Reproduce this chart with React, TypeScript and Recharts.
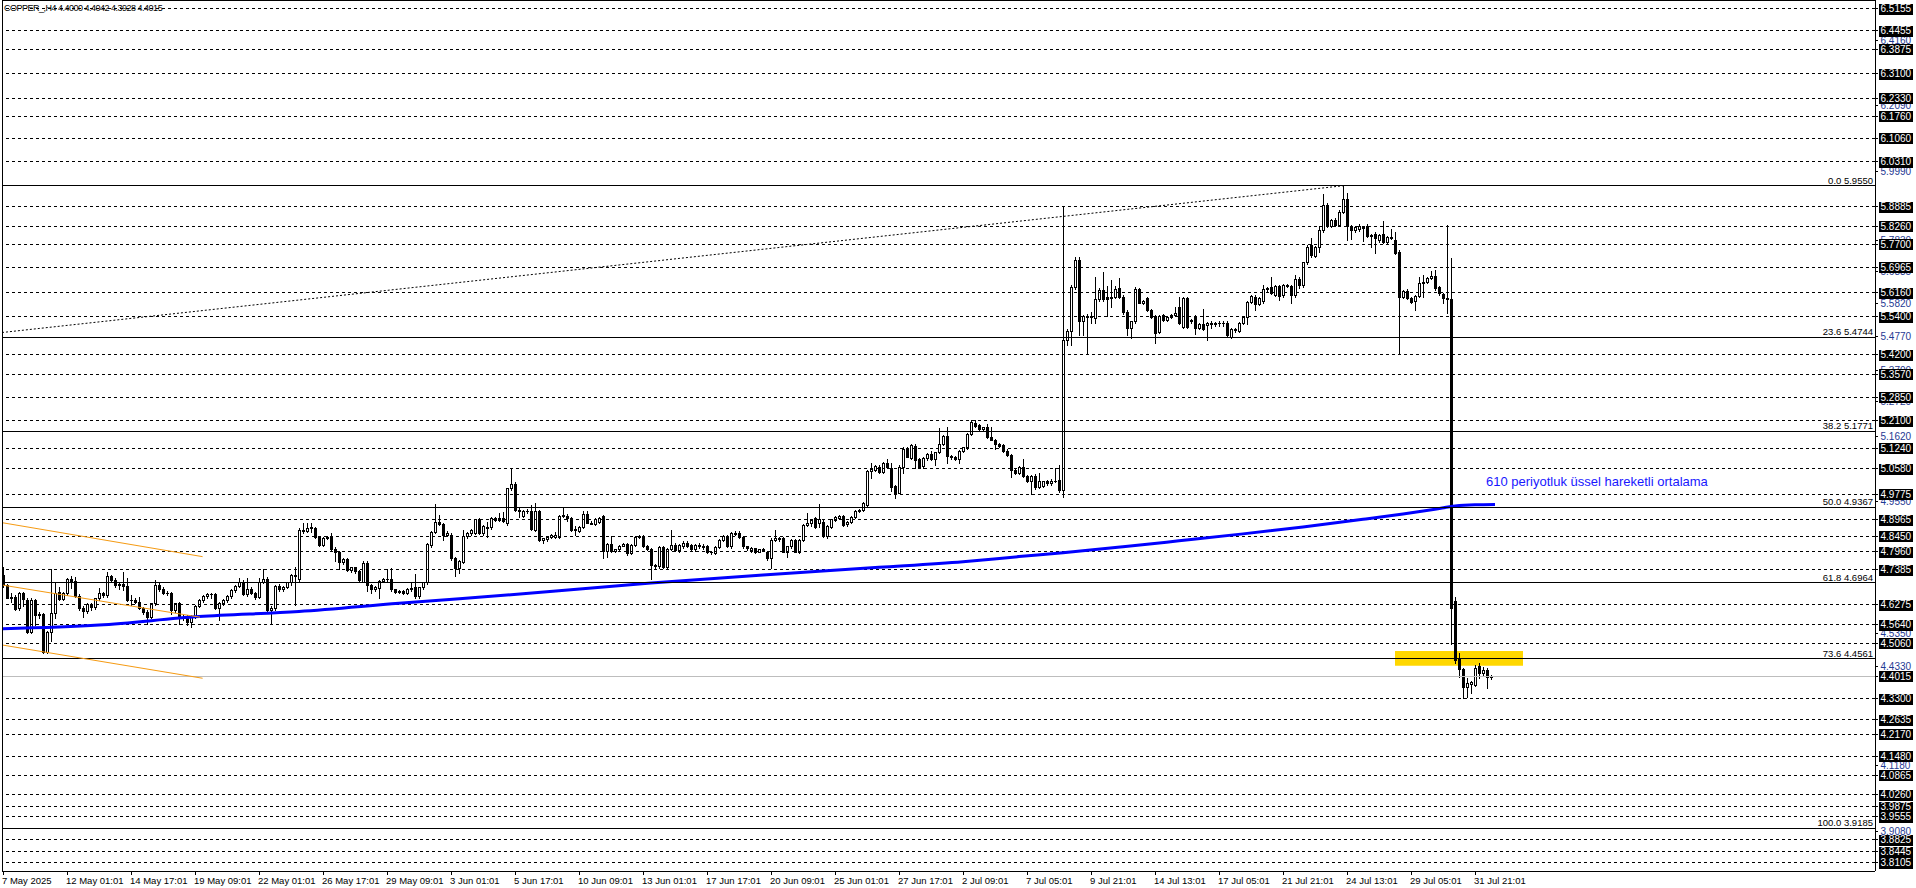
import React from 'react';
import {
  ComposedChart,
  Bar,
  Line,
  XAxis,
  YAxis,
  ReferenceLine,
  ReferenceArea,
  ReferenceDot,
} from 'recharts';

// ---------- data (prices) ----------
// each candle: [open, high, low, close], one per H4 bar, starting 7 May 2025 09:01
const candlesPart1 = [
  [4.722,4.746,4.685,4.690],[4.690,4.693,4.648,4.650],[4.650,4.664,4.637,4.653],[4.653,4.658,4.611,4.613],
  [4.616,4.669,4.611,4.664],[4.664,4.669,4.622,4.645],[4.643,4.648,4.539,4.542],[4.542,4.648,4.539,4.643],
  [4.641,4.645,4.564,4.595],[4.595,4.603,4.585,4.597],[4.597,4.600,4.476,4.479],[4.479,4.543,4.474,4.540],
  [4.540,4.740,4.511,4.600],[4.600,4.695,4.585,4.666],[4.669,4.685,4.643,4.645],[4.645,4.669,4.641,4.666],
  [4.666,4.711,4.658,4.708],[4.708,4.717,4.680,4.703],[4.703,4.714,4.653,4.655],[4.655,4.662,4.611,4.616],
  [4.616,4.624,4.590,4.609],[4.609,4.632,4.600,4.629],[4.629,4.634,4.611,4.619],[4.619,4.650,4.613,4.648],
  [4.648,4.680,4.643,4.664],[4.664,4.669,4.653,4.658],[4.658,4.730,4.653,4.717],[4.717,4.722,4.703,4.706],
  [4.706,4.711,4.685,4.690],[4.690,4.701,4.676,4.693],[4.693,4.732,4.674,4.687],[4.687,4.711,4.638,4.641],
  [4.641,4.658,4.627,4.643],[4.643,4.648,4.632,4.637],[4.637,4.653,4.614,4.616],[4.616,4.621,4.598,4.603],
  [4.603,4.611,4.567,4.590],[4.590,4.634,4.585,4.632],[4.632,4.706,4.627,4.690],[4.690,4.698,4.672,4.676],
  [4.676,4.685,4.662,4.666],[4.666,4.672,4.658,4.664],[4.664,4.669,4.598,4.611],[4.611,4.634,4.605,4.632],
  [4.632,4.637,4.567,4.585],[4.585,4.598,4.579,4.590],[4.590,4.595,4.564,4.573],[4.573,4.595,4.558,4.590],
  [4.590,4.627,4.585,4.624],[4.624,4.645,4.619,4.641],[4.641,4.658,4.637,4.655],[4.655,4.664,4.650,4.660],
  [4.660,4.665,4.650,4.662],[4.662,4.664,4.614,4.616],[4.616,4.637,4.579,4.634],[4.634,4.645,4.627,4.641],
  [4.641,4.658,4.637,4.655],[4.655,4.676,4.650,4.674],[4.674,4.690,4.669,4.687],[4.687,4.711,4.683,4.701],
  [4.701,4.706,4.658,4.662],[4.662,4.711,4.655,4.676],[4.676,4.685,4.660,4.664],[4.664,4.669,4.645,4.653],
  [4.653,4.711,4.650,4.701],[4.701,4.741,4.695,4.708],[4.708,4.714,4.609,4.611],[4.611,4.622,4.571,4.616],
  [4.616,4.690,4.610,4.687],[4.687,4.693,4.672,4.676],[4.676,4.687,4.670,4.685],[4.685,4.700,4.680,4.698],
  [4.698,4.725,4.690,4.722],[4.722,4.746,4.627,4.719],[4.708,4.870,4.700,4.864],[4.864,4.886,4.854,4.861],
  [4.861,4.886,4.859,4.872],[4.872,4.886,4.859,4.873],[4.870,4.875,4.838,4.841],[4.841,4.845,4.815,4.817],
  [4.817,4.843,4.812,4.840],[4.840,4.845,4.835,4.842],[4.845,4.854,4.800,4.803],[4.803,4.810,4.767,4.796],
  [4.796,4.798,4.740,4.764],[4.764,4.775,4.758,4.771],[4.771,4.776,4.733,4.736],[4.736,4.748,4.730,4.746],
  [4.746,4.748,4.727,4.733],[4.733,4.737,4.704,4.706],[4.701,4.767,4.698,4.761],[4.761,4.765,4.672,4.690],
  [4.690,4.693,4.666,4.676],[4.676,4.688,4.672,4.685],[4.680,4.705,4.648,4.703],[4.703,4.711,4.700,4.708],
  [4.708,4.741,4.704,4.710],[4.710,4.743,4.672,4.676],[4.676,4.678,4.665,4.669],[4.669,4.673,4.664,4.670],
  [4.670,4.673,4.660,4.664],[4.664,4.680,4.660,4.676],[4.676,4.698,4.672,4.680],[4.683,4.725,4.650,4.655],
  [4.655,4.685,4.650,4.683],[4.683,4.700,4.678,4.698],
];

const candlesPart2 = [
  [4.698,4.822,4.693,4.820],[4.817,4.862,4.810,4.859],[4.859,4.946,4.855,4.891],[4.891,4.912,4.880,4.884],
  [4.884,4.888,4.833,4.849],[4.849,4.862,4.845,4.856],[4.850,4.856,4.769,4.775],[4.775,4.778,4.717,4.743],
  [4.743,4.768,4.727,4.766],[4.764,4.865,4.760,4.845],[4.845,4.858,4.840,4.856],[4.856,4.866,4.850,4.865],
  [4.856,4.900,4.852,4.898],[4.898,4.901,4.852,4.856],[4.856,4.880,4.850,4.877],[4.870,4.891,4.841,4.875],
  [4.873,4.904,4.868,4.901],[4.901,4.905,4.893,4.896],[4.896,4.919,4.892,4.901],[4.901,4.922,4.890,4.894],
  [4.888,4.998,4.880,4.996],[4.996,5.060,4.990,5.010],[5.010,5.015,4.925,4.928],[4.928,4.935,4.905,4.925],
  [4.909,4.928,4.905,4.923],[4.923,4.930,4.918,4.925],[4.923,4.944,4.865,4.868],[4.865,4.949,4.860,4.923],
  [4.923,4.928,4.828,4.833],[4.833,4.840,4.822,4.838],[4.835,4.846,4.830,4.843],[4.843,4.852,4.838,4.847],
  [4.843,4.859,4.840,4.849],[4.843,4.911,4.840,4.909],[4.909,4.936,4.905,4.912],[4.910,4.915,4.894,4.901],
  [4.901,4.905,4.862,4.865],[4.865,4.877,4.849,4.867],[4.862,4.876,4.858,4.873],[4.873,4.923,4.870,4.915],
  [4.915,4.923,4.885,4.888],[4.888,4.893,4.882,4.884],[4.884,4.901,4.880,4.898],[4.891,4.906,4.888,4.901],
  [4.909,4.913,4.775,4.799],[4.799,4.822,4.780,4.820],[4.820,4.845,4.796,4.799],[4.799,4.805,4.795,4.803],
  [4.803,4.816,4.799,4.814],[4.814,4.822,4.812,4.819],[4.819,4.822,4.785,4.791],[4.791,4.820,4.787,4.817],
  [4.817,4.846,4.813,4.843],[4.843,4.850,4.838,4.845],[4.845,4.850,4.810,4.814],[4.814,4.818,4.800,4.803],
  [4.803,4.806,4.708,4.754],[4.754,4.757,4.744,4.750],[4.750,4.812,4.745,4.810],[4.810,4.813,4.745,4.748],
  [4.748,4.806,4.744,4.803],[4.803,4.865,4.800,4.817],[4.817,4.822,4.797,4.801],[4.801,4.820,4.795,4.817],
  [4.812,4.830,4.808,4.824],[4.824,4.830,4.810,4.814],[4.817,4.820,4.800,4.803],[4.803,4.820,4.798,4.817],
  [4.817,4.822,4.806,4.812],[4.812,4.820,4.805,4.810],[4.814,4.818,4.790,4.793],[4.793,4.798,4.787,4.796],
  [4.791,4.812,4.788,4.810],[4.810,4.835,4.806,4.833],[4.833,4.850,4.830,4.845],[4.845,4.850,4.810,4.812],
  [4.812,4.858,4.808,4.854],[4.854,4.860,4.848,4.852],[4.854,4.860,4.838,4.841],[4.841,4.845,4.808,4.812],
  [4.812,4.815,4.800,4.808],[4.801,4.810,4.795,4.806],[4.806,4.808,4.790,4.796],[4.796,4.805,4.793,4.803],
  [4.803,4.806,4.798,4.801],[4.793,4.798,4.770,4.775],[4.775,4.838,4.743,4.833],[4.833,4.865,4.828,4.838],
  [4.838,4.842,4.830,4.836],[4.838,4.842,4.793,4.796],[4.796,4.814,4.780,4.812],[4.812,4.836,4.808,4.833],
  [4.833,4.837,4.793,4.796],[4.796,4.837,4.792,4.833],[4.833,4.884,4.830,4.880],[4.880,4.919,4.876,4.886],
  [4.886,4.898,4.877,4.896],[4.901,4.905,4.872,4.875],[4.888,4.947,4.875,4.898],[4.891,4.898,4.842,4.845],
  [4.845,4.880,4.840,4.877],[4.873,4.900,4.870,4.898],[4.896,4.909,4.893,4.907],[4.901,4.912,4.898,4.909],
  [4.909,4.913,4.877,4.880],[4.884,4.894,4.878,4.891],[4.891,4.909,4.888,4.907],[4.907,4.927,4.903,4.925],
  [4.925,4.932,4.921,4.928],[4.928,4.953,4.923,4.951],[4.944,5.054,4.940,5.052],
];

const candlesPart3 = [
  [5.052,5.076,5.028,5.057],[5.055,5.070,5.050,5.067],[5.065,5.070,5.045,5.049],[5.049,5.080,5.045,5.078],
  [5.078,5.088,5.062,5.065],[5.062,5.078,4.989,5.002],[5.004,5.008,4.965,4.983],[4.983,5.070,4.980,5.065],
  [5.065,5.128,5.044,5.120],[5.120,5.128,5.094,5.097],[5.092,5.137,5.088,5.134],[5.131,5.137,5.062,5.086],
  [5.088,5.092,5.060,5.065],[5.067,5.095,5.062,5.092],[5.092,5.108,5.085,5.105],[5.105,5.115,5.086,5.090],
  [5.090,5.113,5.070,5.111],[5.111,5.186,5.107,5.137],[5.137,5.165,5.133,5.162],[5.162,5.190,5.076,5.099],
  [5.099,5.102,5.090,5.095],[5.097,5.100,5.085,5.088],[5.088,5.118,5.076,5.116],[5.116,5.128,5.112,5.126],
  [5.126,5.172,5.122,5.169],[5.169,5.213,5.165,5.206],[5.202,5.213,5.192,5.195],[5.197,5.199,5.180,5.183],
  [5.183,5.192,5.180,5.190],[5.190,5.200,5.155,5.158],[5.160,5.192,5.148,5.150],[5.150,5.153,5.120,5.137],
  [5.137,5.140,5.128,5.131],[5.134,5.137,5.113,5.116],[5.116,5.120,5.100,5.102],[5.102,5.106,5.031,5.053],
  [5.053,5.058,5.042,5.046],[5.046,5.067,5.042,5.065],[5.065,5.088,5.033,5.036],[5.036,5.040,5.015,5.018],
  [5.018,5.039,4.979,5.036],[5.036,5.041,4.995,5.000],[5.000,5.044,4.996,5.018],[5.004,5.021,5.000,5.018],
  [5.018,5.023,5.006,5.012],[5.012,5.026,5.008,5.020],[5.020,5.062,5.015,5.021],[5.023,5.070,4.986,4.991],
  [4.991,5.889,4.970,5.467],[5.467,5.500,5.451,5.496],[5.496,5.640,5.451,5.633],[5.633,5.730,5.628,5.720],
  [5.720,5.730,5.482,5.525],[5.525,5.546,5.482,5.543],[5.543,5.548,5.424,5.540],[5.540,5.556,5.519,5.543],
  [5.535,5.665,5.521,5.595],[5.595,5.630,5.590,5.625],[5.625,5.683,5.590,5.595],[5.602,5.638,5.543,5.595],
  [5.599,5.657,5.572,5.604],[5.604,5.638,5.600,5.627],[5.630,5.662,5.599,5.602],[5.604,5.608,5.550,5.556],
  [5.556,5.560,5.482,5.503],[5.503,5.528,5.472,5.525],[5.525,5.633,5.520,5.627],[5.627,5.632,5.582,5.585],
  [5.585,5.594,5.580,5.591],[5.599,5.603,5.558,5.562],[5.562,5.566,5.537,5.540],[5.543,5.547,5.458,5.490],
  [5.493,5.546,5.488,5.543],[5.546,5.550,5.527,5.530],[5.530,5.543,5.526,5.540],[5.540,5.550,5.535,5.545],
  [5.546,5.570,5.541,5.553],[5.572,5.604,5.517,5.519],[5.509,5.601,5.505,5.599],[5.599,5.603,5.503,5.509],
  [5.525,5.532,5.520,5.530],[5.540,5.544,5.486,5.503],[5.503,5.520,5.500,5.517],[5.517,5.564,5.497,5.500],
  [5.515,5.522,5.467,5.519],[5.519,5.525,5.503,5.517],[5.517,5.524,5.510,5.521],[5.521,5.526,5.512,5.519],
  [5.519,5.525,5.510,5.521],[5.521,5.525,5.478,5.482],[5.477,5.503,5.472,5.500],[5.500,5.505,5.492,5.498],
  [5.496,5.524,5.492,5.521],[5.521,5.543,5.517,5.540],[5.540,5.590,5.517,5.588],[5.588,5.609,5.584,5.606],
  [5.604,5.609,5.562,5.581],[5.581,5.602,5.576,5.599],[5.590,5.641,5.585,5.627],[5.627,5.633,5.620,5.630],
  [5.633,5.665,5.613,5.616],[5.609,5.641,5.605,5.638],[5.638,5.642,5.593,5.606],[5.609,5.645,5.604,5.641],
  [5.641,5.645,5.633,5.638],[5.638,5.642,5.583,5.609],[5.609,5.672,5.604,5.659],[5.659,5.665,5.630,5.641],
];

const candlesPart4 = [
  [5.641,5.715,5.633,5.712],[5.712,5.767,5.708,5.762],[5.767,5.789,5.728,5.736],[5.733,5.765,5.728,5.762],
  [5.762,5.828,5.745,5.815],[5.815,5.929,5.810,5.894],[5.894,5.900,5.823,5.828],[5.828,5.850,5.823,5.847],
  [5.847,5.852,5.828,5.831],[5.831,5.878,5.826,5.873],[5.873,5.955,5.868,5.912],[5.912,5.933,5.783,5.828],
  [5.828,5.832,5.785,5.815],[5.815,5.826,5.810,5.823],[5.817,5.834,5.813,5.826],[5.823,5.828,5.781,5.820],
  [5.826,5.834,5.792,5.796],[5.796,5.801,5.762,5.798],[5.802,5.807,5.741,5.789],[5.783,5.802,5.778,5.799],
  [5.802,5.844,5.775,5.778],[5.778,5.797,5.773,5.794],[5.794,5.817,5.786,5.789],[5.783,5.807,5.740,5.743],
  [5.746,5.750,5.426,5.604],[5.604,5.626,5.599,5.623],[5.623,5.627,5.596,5.599],[5.599,5.602,5.585,5.588],
  [5.591,5.608,5.562,5.606],[5.606,5.667,5.602,5.648],[5.648,5.672,5.602,5.651],[5.651,5.666,5.647,5.662],
  [5.662,5.686,5.658,5.669],[5.669,5.688,5.626,5.630],[5.633,5.636,5.610,5.614],[5.612,5.616,5.583,5.599],
  [5.599,5.831,5.553,5.595],[5.595,5.725,4.503,4.616],[4.640,4.651,4.442,4.452],[4.458,4.474,4.399,4.423],
  [4.423,4.428,4.333,4.368],[4.368,4.395,4.336,4.381],[4.375,4.386,4.347,4.382],[4.373,4.435,4.370,4.426],
  [4.433,4.442,4.394,4.410],[4.412,4.431,4.404,4.421],[4.421,4.426,4.363,4.399],[4.4000,4.4042,4.3928,4.4015],
];

// 610-period EMA, [bar index, value]
const emaPoints = [
  [0,4.551],[24,4.563],[49,4.590],[74,4.606],[99,4.632],[130,4.662],[162,4.696],[190,4.722],
  [219,4.746],[240,4.764],[254,4.780],[265,4.792],[280,4.811],[294,4.830],[310,4.852],[325,4.874],
  [340,4.898],[350,4.915],[358,4.930],[363,4.940],[368,4.944],[373,4.945],
];

const timeTickBars = [0,16,32,48,64,80,96,112,128,144,160,176,192,208,224,240,256,272,288,304,320,336,352,368];
const timeLabels = [
  '7 May 2025','12 May 01:01','14 May 17:01','19 May 09:01','22 May 01:01','26 May 17:01',
  '29 May 09:01','3 Jun 01:01','5 Jun 17:01','10 Jun 09:01','13 Jun 01:01','17 Jun 17:01',
  '20 Jun 09:01','25 Jun 01:01','27 Jun 17:01','2 Jul 09:01','7 Jul 05:01','9 Jul 21:01',
  '14 Jul 13:01','17 Jul 05:01','21 Jul 21:01','24 Jul 13:01','29 Jul 05:01','31 Jul 21:01',
];

const dashedLevels = [
  6.5155,6.4455,6.3875,6.3100,6.2330,6.1760,6.1060,6.0310,5.8885,5.8260,5.7700,5.6965,5.6160,
  5.5400,5.4200,5.3570,5.2850,5.2100,5.1240,5.0580,4.9775,4.8965,4.8450,4.7960,4.7385,4.6275,
  4.5640,4.5060,4.3300,4.2635,4.2170,4.1480,4.0865,4.0260,3.9875,3.9555,3.8825,3.8445,3.8105,
];
const sideLabels = [
  6.4160,6.2090,5.9990,5.7830,5.6835,5.5820,5.4770,5.3700,5.2720,5.1620,4.9550,4.5350,4.4330,4.1180,3.9080,
];
const bidPrice = 4.4015;

const fibLevels = [
  ['0.0', 5.955],['23.6', 5.4744],['38.2', 5.1771],['50.0', 4.9367],
  ['61.8', 4.6964],['73.6', 4.4561],['100.0', 3.9185],
];

const trendLine = [[-0.25, 5.49],[335, 5.955]];
const channelLines = [
  [[-0.25, 4.8875],[49.9, 4.7798]],
  [[-0.25, 4.690],[49.25, 4.588]],
  [[-0.25, 4.500],[49.9, 4.3945]],
];
const zone = { fromBar: 348, toBar: 380, low: 4.4344, high: 4.481 };
const emaNote = { bar: 370.75, price: 5.0355, text: '610 periyotluk üssel hareketli ortalama' };
const titleText = 'COPPER_,H4 4.4000 4.4042 4.3928 4.4015';

// ---------- layout ----------
const W = 1916;
const H = 888;
const Y_MIN = 3.7838;
const Y_MAX = 6.5436;
const X_MIN = -0.25;
const X_MAX = 468;
const FONT = "'Liberation Sans', Arial, sans-serif";

const allCandles = [...candlesPart1, ...candlesPart2, ...candlesPart3, ...candlesPart4];
const emaMap = new Map(emaPoints.map(([b, v]) => [b, v]));
const lastIdx = Math.max(allCandles.length - 1, ...emaPoints.map((p) => p[0]));
const rows: any[] = [];
for (let i = 0; i <= lastIdx; i++) {
  const row: any = { i };
  const cd = allCandles[i];
  if (cd) {
    row.o = cd[0]; row.h = cd[1]; row.l = cd[2]; row.c = cd[3];
    row.range = [cd[2], cd[1]];
  }
  if (emaMap.has(i)) row.ema = emaMap.get(i);
  rows.push(row);
}

function Candle(props: any) {
  const { x, y, width, height, payload } = props;
  if (!payload || payload.o === undefined || x == null || y == null) return null;
  let top = y;
  let hgt = height;
  if (hgt < 0) { top = y + hgt; hgt = -hgt; }
  const { o, h, l, c } = payload;
  const k = h > l ? hgt / (h - l) : 0;
  const py = (p: number) => top + (h - p) * k;
  const cx = Math.round(x + width / 2);
  const yh = Math.round(py(h));
  const yl = Math.round(py(l));
  const b1 = Math.round(py(Math.max(o, c)));
  const b2 = Math.round(py(Math.min(o, c)));
  const bull = c >= o;
  let body;
  if (b2 - b1 < 1) {
    body = <line x1={cx - 1} x2={cx + 2} y1={b1 + 0.5} y2={b1 + 0.5} stroke="#000" />;
  } else if (bull) {
    body = <rect x={cx - 0.5} y={b1 + 0.5} width={2} height={b2 - b1} fill="#fff" stroke="#000" />;
  } else {
    body = <rect x={cx - 1} y={b1} width={3} height={b2 - b1 + 1} fill="#000" />;
  }
  return (
    <g shapeRendering="crispEdges">
      <line x1={cx + 0.5} x2={cx + 0.5} y1={yh} y2={yl + 1} stroke="#000" />
      {body}
    </g>
  );
}

function PriceTick(props: any) {
  const { x, y, payload } = props;
  const v = Number(payload.value);
  const txt = v.toFixed(4);
  const isSide = sideLabels.some((s) => Math.abs(s - v) < 1e-7);
  if (isSide) {
    return (
      <text x={x + 1.5} y={y + 3.5} fontSize={10} fill="#1f3a93" fontFamily={FONT}>{txt}</text>
    );
  }
  return (
    <g>
      <rect x={x} y={Math.round(y) - 5} width={34} height={11} fill="#000" shapeRendering="crispEdges" />
      <text x={x + 1.5} y={y + 3.5} fontSize={10} fill="#fff" fontFamily={FONT}>{txt}</text>
    </g>
  );
}

function TimeTick(props: any) {
  const { x, y, payload, index } = props;
  const k = timeTickBars.indexOf(payload.value);
  const label = timeLabels[k >= 0 ? k : index];
  return (
    <text x={x - 1} y={y + 7} fontSize={9.5} fill="#000" fontFamily={FONT}>{label}</text>
  );
}

function FibLabel(props: any) {
  const vb = props.viewBox || {};
  return (
    <text x={vb.x + vb.width - 2} y={vb.y - 2} textAnchor="end" fontSize={9.5} fill="#000" fontFamily={FONT}>
      {props.text}
    </text>
  );
}

function NoteLabel(props: any) {
  const vb = props.viewBox || {};
  return (
    <text x={vb.x} y={vb.y + 10} fontSize={13} fill="#1818ff" fontFamily={FONT}>{props.text}</text>
  );
}

export default function App() {
  return (
    <div style={{ position: 'absolute', left: 0, top: 0, width: W, height: H, background: '#fff', fontFamily: FONT }}>
      <ComposedChart width={W} height={H} data={rows} margin={{ top: 0, right: 0, bottom: 0, left: 2 }}>
        <XAxis
          dataKey="i"
          type="number"
          domain={[X_MIN, X_MAX]}
          allowDataOverflow
          ticks={timeTickBars}
          interval={0}
          tick={<TimeTick />}
          tickSize={4}
          tickMargin={2}
          tickLine={{ stroke: '#000', shapeRendering: 'crispEdges' }}
          axisLine={{ stroke: '#000', shapeRendering: 'crispEdges' }}
          height={17}
        />
        <YAxis
          orientation="right"
          type="number"
          domain={[Y_MIN, Y_MAX]}
          allowDataOverflow
          ticks={[...sideLabels, ...dashedLevels, bidPrice]}
          interval={0}
          tick={<PriceTick />}
          tickSize={3}
          tickMargin={1}
          tickLine={{ stroke: '#000', shapeRendering: 'crispEdges' }}
          axisLine={{ stroke: '#000', shapeRendering: 'crispEdges' }}
          width={41}
        />

        <ReferenceArea
          x1={zone.fromBar}
          x2={zone.toBar}
          y1={zone.low}
          y2={zone.high}
          fill="#ffd700"
          fillOpacity={1}
          stroke="none"
        />

        {dashedLevels.map((lv) => (
          <ReferenceLine key={'d' + lv} y={lv} stroke="#000" strokeDasharray="3 3" shapeRendering="crispEdges" />
        ))}

        <ReferenceLine y={bidPrice} stroke="#bdbdbd" shapeRendering="crispEdges" />

        <Bar dataKey="range" barSize={4} isAnimationActive={false} shape={(p: any) => <Candle {...p} />} />

        <Line
          dataKey="ema"
          type="monotone"
          stroke="#0000ff"
          strokeWidth={3}
          dot={false}
          activeDot={false}
          connectNulls
          isAnimationActive={false}
        />

        {fibLevels.map(([pct, price]) => (
          <ReferenceLine
            key={'f' + pct}
            y={price as number}
            stroke="#000"
            shapeRendering="crispEdges"
            label={<FibLabel text={`${pct} ${(price as number).toFixed(4)}`} />}
          />
        ))}

        {channelLines.map((seg, k) => (
          <ReferenceLine
            key={'c' + k}
            segment={[{ x: seg[0][0], y: seg[0][1] }, { x: seg[1][0], y: seg[1][1] }]}
            stroke="#f59a12"
            strokeWidth={1}
          />
        ))}

        <ReferenceLine
          segment={[{ x: trendLine[0][0], y: trendLine[0][1] }, { x: trendLine[1][0], y: trendLine[1][1] }]}
          stroke="#000"
          strokeDasharray="2 2"
        />

        <ReferenceLine x={X_MIN} stroke="#000" shapeRendering="crispEdges" />
        <ReferenceLine y={Y_MAX} stroke="#000" shapeRendering="crispEdges" />

        <ReferenceDot
          x={emaNote.bar}
          y={emaNote.price}
          r={0}
          fill="none"
          stroke="none"
          label={<NoteLabel text={emaNote.text} />}
        />
      </ComposedChart>
      <div
        style={{
          position: 'absolute',
          left: 4,
          top: 3,
          fontSize: 9,
          letterSpacing: '-0.5px',
          lineHeight: '11px',
          color: '#000',
          whiteSpace: 'pre',
          pointerEvents: 'none',
        }}
      >
        {titleText}
      </div>
    </div>
  );
}
